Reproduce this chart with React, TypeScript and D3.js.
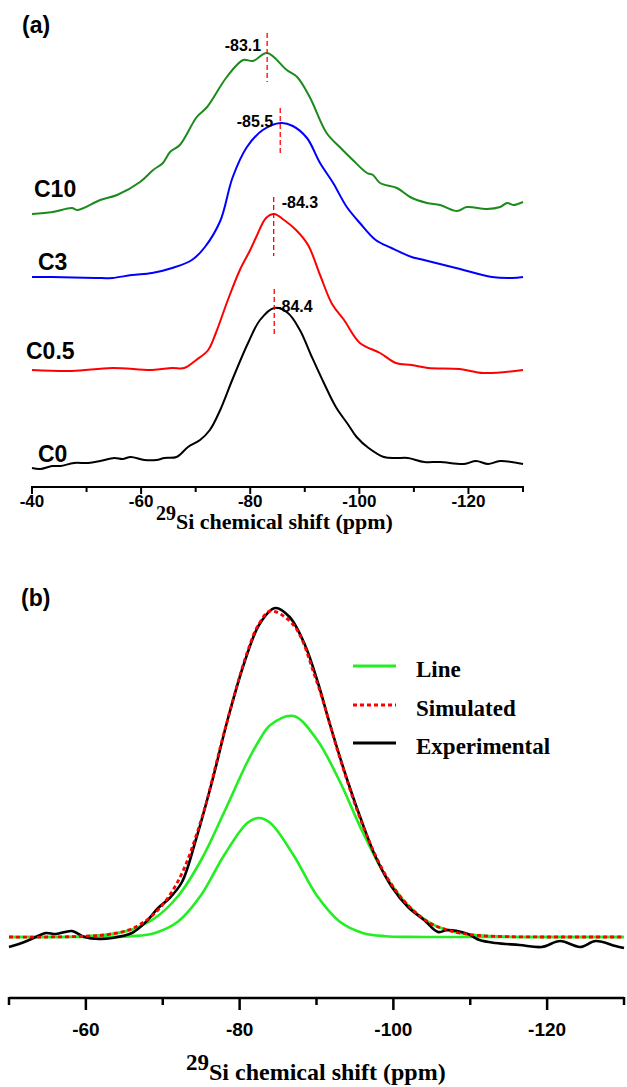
import React, { useEffect, useRef } from 'react';
import * as d3 from 'd3';

// ---------- panel (a): stacked 29Si spectra ----------
const seriesNames = ['C0', 'C0.5', 'C3', 'C10'];
const seriesColors = ['#000000', '#ff0000', '#0000ff', '#1c8a1c'];
const seriesOffsets = [22, 117, 209, 274]; // a.u., vertical stacking

const c0Ppm = [-40, -41.5, -43.7, -45.2, -47.7, -50.3, -52.5, -55.1, -56.6, -58.1, -60.6, -62.8, -64.3, -66.5, -68.6, -70.8, -72.6, -74.5, -76.7, -79.6, -81.8, -84.4, -86.9, -89.1, -91.3, -93.5, -95.7, -98.0, -99.5, -101.7, -104.5, -106.7, -108.9, -111.9, -114.8, -119.2, -121.4, -123.6, -125.8, -130];
const c0Int = [-3, -4, -1, -1, 2, 2, 4, 7, 6, 8, 5, 5, 7, 8, 18, 25, 35, 55, 85, 122, 145, 157, 152, 135, 108, 82, 58, 40, 28, 17, 8, 7, 7, 3, 3, 1, 4, 1, 4, 1];

const c05Ppm = [-40, -47.3, -54.7, -62.0, -65.7, -67.9, -70.1, -72.3, -73.7, -75.9, -78.1, -80.0, -81.1, -82.9, -84.4, -86.2, -88.4, -90.6, -92.8, -95.0, -97.2, -100.1, -103.8, -106.7, -109.6, -112.6, -118.4, -122.8, -130];
const c05Int = [0, -1, 2, 0, 2, 2, 10, 20, 37, 70, 100, 120, 133, 152, 156, 150, 140, 125, 95, 66, 50, 27, 17, 7, 5, 2, 1, -3, 0];

const c3Ppm = [-40, -43.7, -51.7, -54.7, -58.3, -62.0, -65.7, -69.3, -71.7, -74.5, -76.8, -79.4, -82.3, -85.6, -87.8, -90.4, -92.8, -95.2, -97.7, -100.1, -103.0, -105.9, -109.6, -111.1, -117.7, -124.3, -128.0, -130];
const c3Int = [1, 1, 0, 0, 3, 5, 10, 18, 31, 57, 101, 131, 148, 155, 152, 140, 115, 95, 71, 55, 38, 30, 21, 19, 10, 1, 0, 1];

const c10Ppm = [-40, -43.8, -47.3, -48.4, -52.5, -55.6, -59.8, -62.2, -64.0, -65.3, -67.1, -70.2, -72.1, -75.7, -78.7, -80.5, -83.1, -86.7, -88.6, -90.9, -94.0, -96.4, -98.8, -101.4, -102.5, -103.8, -106.9, -109.3, -112.4, -114.8, -117.9, -119.7, -123.4, -125.8, -127.1, -128.2, -130];
const c10Int = [-1, 1, 5, 3, 13, 18, 31, 43, 50, 61, 68, 96, 106, 136, 153, 152, 160, 143, 136, 116, 80, 66, 53, 40, 38, 30, 25, 16, 10, 8, 2, 6, 4, 6, 10, 8, 11];

const peakShifts = [-84.4, -84.3, -85.5, -83.1];
const peakLabels = ['-84.4', '-84.3', '-85.5', '-83.1'];
const ticksA = [-40, -50, -60, -70, -80, -90, -100, -110, -120, -130];

// ---------- panel (b): deconvolution ----------
const fitPpm = [-50, -55, -60, -63, -66, -69, -72, -75, -78, -81, -82.5, -84, -87, -90, -93, -96, -99, -102, -105, -108, -111, -115, -120, -125, -130];
const lineSmall = [0, 0, 0, 0.1, 0.8, 4.1, 15.5, 42, 82, 114, 119, 114, 82, 42, 15.5, 4.1, 0.8, 0.1, 0, 0, 0, 0, 0, 0, 0];
const lineLarge = [0, 0, 0.8, 2.6, 7.6, 19, 41, 77, 125, 175, 196, 212, 221, 198, 156, 105, 61, 31, 13, 5, 1.6, 0.3, 0, 0, 0];
const simulated = [0, 0, 0.8, 2.7, 8.4, 24, 56, 117, 205, 285, 313, 326, 312, 256, 180, 112, 62, 31, 13, 5, 1.6, 0.3, 0, 0, 0];

const expPpm = [-50, -52, -53.5, -54.8, -56.1, -58.2, -59.8, -61.8, -63.4, -66, -67.8, -69.4, -70.9, -72.5, -74.3, -76.4, -78.5, -80.6, -82.6, -84.6, -86.5, -88.5, -90.2, -91.7, -94, -96.2, -97.7, -99.8, -101.9, -104, -105.8, -107.1, -109.7, -111.2, -113.3, -116.4, -119.3, -121.7, -124.3, -126.3, -128.9, -130];
const expInt = [-10, -5, 0, 4, 3, 6, 0, -2, -1, 4, 15, 29, 39, 55, 97, 155, 219, 274, 313, 329, 320, 292, 254, 214, 157, 109, 80, 50, 30, 17, 5, 7, 3, -3, -6, -8, -10, -4, -10, -4, -9, -11];

const legendLabels = ['Line', 'Simulated', 'Experimental'];
const ticksB = [-50, -60, -70, -80, -90, -100, -110, -120, -130];

export default function App() {
  const ref = useRef<SVGSVGElement>(null);

  useEffect(() => {
    const svg = d3.select(ref.current);
    svg.selectAll('*').remove();
    const sans = "'Liberation Sans', Arial, sans-serif";
    const serif = "'Liberation Serif', 'Times New Roman', serif";

    // ===== panel (a) =====
    const xA = d3.scaleLinear().domain([-40, -130]).range([32, 523]);
    const yA = d3.scaleLinear().domain([0, 450]).range([487, 37]);

    svg.append('text').attr('x', 22).attr('y', 33).text('(a)')
      .attr('font-family', sans).attr('font-weight', 'bold').attr('font-size', 23);

    const specs = [
      { ppm: c0Ppm, v: c0Int },
      { ppm: c05Ppm, v: c05Int },
      { ppm: c3Ppm, v: c3Int },
      { ppm: c10Ppm, v: c10Int },
    ];
    // label / marker layout (px)
    const nameXY = [[38, 462], [26, 359], [38, 270], [34, 197]];
    const dashSpan = [[289, 337], [197, 256], [108, 155], [33, 82]];
    const peakText = [[2, 312, 'start'], [8, 208, 'start'], [-7, 127, 'end'], [-6, 51, 'end']];

    const lineA = d3.line<[number, number]>()
      .x(d => xA(d[0])).y(d => yA(d[1]))
      .curve(d3.curveCatmullRom.alpha(0.5));

    specs.forEach((s, i) => {
      const pts: [number, number][] = s.ppm.map((p, j) => [p, s.v[j] + seriesOffsets[i]]);
      svg.append('path').datum(pts).attr('d', lineA)
        .attr('fill', 'none').attr('stroke', seriesColors[i]).attr('stroke-width', 2);

      svg.append('text').attr('x', nameXY[i][0]).attr('y', nameXY[i][1])
        .text(seriesNames[i])
        .attr('font-family', sans).attr('font-weight', 'bold').attr('font-size', 23);

      const px = xA(peakShifts[i]);
      svg.append('line').attr('x1', px).attr('x2', px)
        .attr('y1', dashSpan[i][0]).attr('y2', dashSpan[i][1])
        .attr('stroke', '#ff0000').attr('stroke-width', 1.3).attr('stroke-dasharray', '5,3');

      svg.append('text').attr('x', px + (peakText[i][0] as number)).attr('y', peakText[i][1] as number)
        .attr('text-anchor', peakText[i][2] as string)
        .text(peakLabels[i])
        .attr('font-family', sans).attr('font-weight', 'bold').attr('font-size', 16);
    });

    const axA = svg.append('g');
    axA.append('line').attr('x1', xA(-40)).attr('x2', xA(-130)).attr('y1', 487).attr('y2', 487)
      .attr('stroke', '#000').attr('stroke-width', 2);
    ticksA.forEach(t => {
      const major = t % 20 === 0;
      axA.append('line').attr('x1', xA(t)).attr('x2', xA(t)).attr('y1', 486).attr('y2', 487 + (major ? 7 : 5))
        .attr('stroke', '#000').attr('stroke-width', 2);
      if (major && t !== -130) {
        axA.append('text').attr('x', xA(t)).attr('y', 507).attr('text-anchor', 'middle').text(String(t))
          .attr('font-family', sans).attr('font-weight', 'bold').attr('font-size', 17);
      }
    });
    const tA = svg.append('text').attr('x', 156).attr('y', 529)
      .attr('font-family', serif).attr('font-weight', 'bold');
    tA.append('tspan').attr('font-size', 20).attr('dy', -9).text('29');
    tA.append('tspan').attr('font-size', 22).attr('dy', 9).text('Si chemical shift (ppm)');

    // ===== panel (b) =====
    const xB = d3.scaleLinear().domain([-50, -130]).range([9, 624]);
    const yB = d3.scaleLinear().domain([0, 329]).range([937, 608]);

    svg.append('text').attr('x', 21).attr('y', 606).text('(b)')
      .attr('font-family', sans).attr('font-weight', 'bold').attr('font-size', 23);

    const lineB = d3.line<[number, number]>()
      .x(d => xB(d[0])).y(d => yB(d[1]))
      .curve(d3.curveCatmullRom.alpha(0.5));
    const zip = (xs: number[], ys: number[]): [number, number][] => xs.map((x, i) => [x, ys[i]]);

    const green = '#22ee22';
    [lineSmall, lineLarge].forEach(v => {
      svg.append('path').datum(zip(fitPpm, v)).attr('d', lineB)
        .attr('fill', 'none').attr('stroke', green).attr('stroke-width', 2.6);
    });
    svg.append('path').datum(zip(expPpm, expInt)).attr('d', lineB)
      .attr('fill', 'none').attr('stroke', '#000').attr('stroke-width', 2.6);
    svg.append('path').datum(zip(fitPpm, simulated)).attr('d', lineB)
      .attr('fill', 'none').attr('stroke', '#ff0000').attr('stroke-width', 2.8)
      .attr('stroke-dasharray', '4,3');

    // legend
    const legY = [666, 705, 743];
    const legStyle = [
      { c: green, dash: null },
      { c: '#ff0000', dash: '4,3' },
      { c: '#000', dash: null },
    ];
    legendLabels.forEach((lab, i) => {
      const l = svg.append('line').attr('x1', 353).attr('x2', 396).attr('y1', legY[i]).attr('y2', legY[i])
        .attr('stroke', legStyle[i].c).attr('stroke-width', 3);
      if (legStyle[i].dash) l.attr('stroke-dasharray', legStyle[i].dash as string);
      svg.append('text').attr('x', 416).attr('y', legY[i] + 11).text(lab)
        .attr('font-family', serif).attr('font-weight', 'bold').attr('font-size', 23);
    });

    const axB = svg.append('g');
    axB.append('line').attr('x1', xB(-50)).attr('x2', xB(-130)).attr('y1', 998).attr('y2', 998)
      .attr('stroke', '#000').attr('stroke-width', 2.5);
    ticksB.forEach(t => {
      const major = t % 20 === 0;
      axB.append('line').attr('x1', xB(t)).attr('x2', xB(t)).attr('y1', 997).attr('y2', 998 + (major ? 12 : 7))
        .attr('stroke', '#000').attr('stroke-width', 2.5);
      if (major) {
        axB.append('text').attr('x', xB(t)).attr('y', 1036).attr('text-anchor', 'middle').text(String(t))
          .attr('font-family', sans).attr('font-weight', 'bold').attr('font-size', 19);
      }
    });
    const tB = svg.append('text').attr('x', 186).attr('y', 1080)
      .attr('font-family', serif).attr('font-weight', 'bold');
    tB.append('tspan').attr('font-size', 23).attr('dy', -10).text('29');
    tB.append('tspan').attr('font-size', 24).attr('dy', 10).text('Si chemical shift (ppm)');
  }, []);

  return (
    <svg ref={ref} width={627} height={1087}
      style={{ position: 'absolute', left: 0, top: 0, background: '#fff' }} />
  );
}
